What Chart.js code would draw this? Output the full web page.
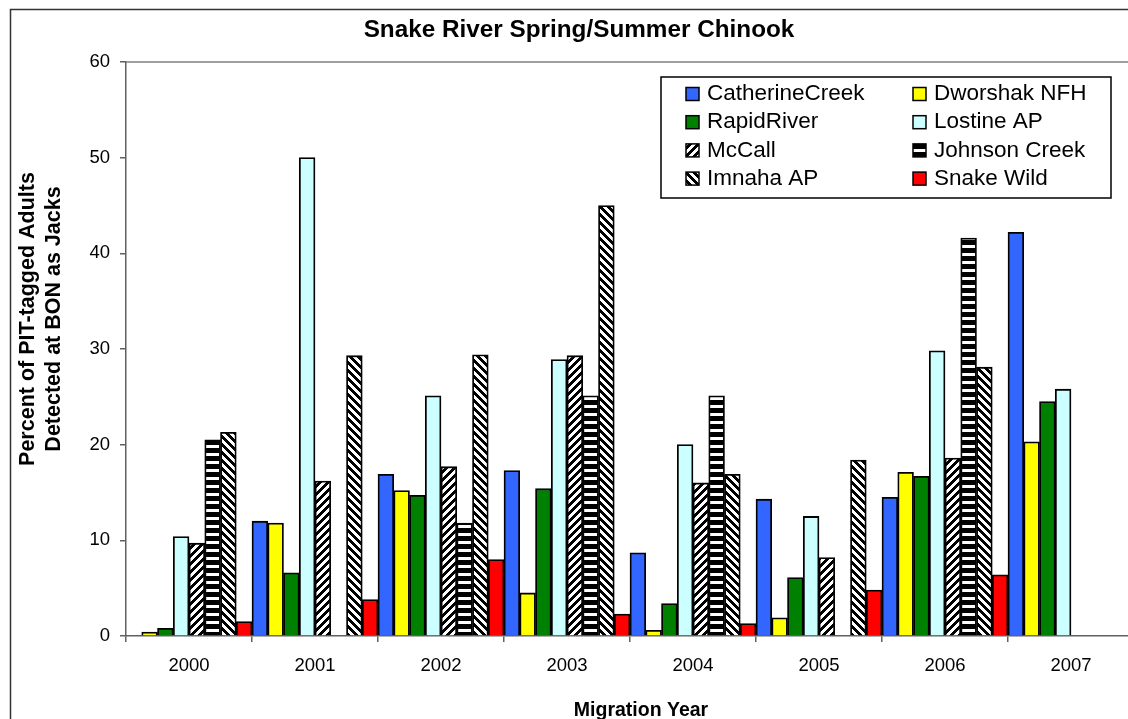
<!DOCTYPE html>
<html>
<head>
<meta charset="utf-8">
<script src="https://cdn.jsdelivr.net/npm/chart.js@4.4.0/dist/chart.umd.min.js"></script>
<style>
  html, body { margin: 0; padding: 0; background: #fff; overflow: hidden; }
  canvas { display: block; }
</style>
</head>
<body>
<canvas id="grafico" width="1150" height="719"></canvas>
<script>
const years = ['2000', '2001', '2002', '2003', '2004', '2005', '2006', '2007'];

// percent of PIT-tagged adults detected at BON as jacks (null = no bar)
const catherineCreek = [null, 12.0, 16.9, 17.3, 8.7, 14.3, 14.5, 42.2];
const dworshakNFH    = [0.4, 11.8, 15.2, 4.5, 0.6, 1.9, 17.1, 20.3];
const rapidRiver     = [0.8, 6.6, 14.7, 15.4, 3.4, 6.1, 16.7, 24.5];
const lostineAP      = [10.4, 50.0, 25.1, 28.9, 20.0, 12.5, 29.8, 25.8];
const mcCall         = [9.7, 16.2, 17.7, 29.3, 16.0, 8.2, 18.6, null];
const johnsonCreek   = [20.5, null, 11.8, 25.1, 25.1, null, 41.6, null];
const imnahaAP       = [21.3, 29.3, 29.4, 45.0, 16.9, 18.4, 28.1, null];
const snakeWild      = [1.5, 3.8, 8.0, 2.3, 1.3, 4.8, 6.4, null];

const yTicks = [0, 10, 20, 30, 40, 50, 60];

const FUENTE = "'Liberation Sans', Arial, sans-serif";

function patron(tipo) {
  const c = document.createElement('canvas');
  c.width = 8; c.height = 8;
  const g = c.getContext('2d');
  g.fillStyle = '#fff';
  g.fillRect(0, 0, 8, 8);
  g.fillStyle = '#000';
  for (let y = 0; y < 8; y++) {
    for (let x = 0; x < 8; x++) {
      let negro;
      if (tipo === 'sube') negro = (x + y) % 8 < 4;
      else if (tipo === 'baja') negro = ((x - y) % 8 + 8) % 8 < 4;
      else negro = y < 5;
      if (negro) g.fillRect(x, y, 1, 1);
    }
  }
  return g.createPattern(c, 'repeat');
}

function serie(label, data, fondo) {
  return {
    label: label,
    data: data,
    backgroundColor: fondo,
    borderColor: '#000',
    borderWidth: 1.8,
    categoryPercentage: 1,
    barPercentage: 1
  };
}

const extras = {
  id: 'extras',
  afterDraw(chart) {
    const ctx = chart.ctx;
    const a = chart.chartArea;
    ctx.save();

    // plot area border (top / right)
    ctx.strokeStyle = '#808080';
    ctx.lineWidth = 1.5;
    ctx.beginPath();
    ctx.moveTo(a.left, a.top);
    ctx.lineTo(a.right, a.top);
    ctx.lineTo(a.right, a.bottom);
    ctx.stroke();

    // outer chart frame
    ctx.strokeStyle = '#333';
    ctx.lineWidth = 1.5;
    ctx.strokeRect(10.5, 9.5, 3000, 3000);

    // y axis title, two lines
    ctx.fillStyle = '#000';
    ctx.font = 'bold 21.5px ' + FUENTE;
    ctx.textAlign = 'center';
    ctx.textBaseline = 'middle';
    ctx.save();
    ctx.translate(28, 319);
    ctx.rotate(-Math.PI / 2);
    ctx.fillText('Percent of PIT-tagged Adults', 0, 0);
    ctx.fillText('Detected at BON as Jacks', 0, 26.5);
    ctx.restore();

    // x axis title
    ctx.font = 'bold 19.5px ' + FUENTE;
    ctx.fillText('Migration Year', 641, 711);

    // legend box
    const lx = 661, ly = 77, lw = 450, lh = 121;
    ctx.fillStyle = '#fff';
    ctx.fillRect(lx, ly, lw, lh);
    ctx.strokeStyle = '#000';
    ctx.lineWidth = 1.5;
    ctx.strokeRect(lx, ly, lw, lh);

    ctx.font = '22.5px ' + FUENTE;
    ctx.textAlign = 'left';
    chart.data.datasets.forEach((ds, i) => {
      const col = i % 2, fila = Math.floor(i / 2);
      const sx = col === 0 ? 686 : 913;
      const cy = 94 + fila * 28.2;
      ctx.fillStyle = ds.backgroundColor;
      ctx.fillRect(sx, cy - 6.5, 13, 13);
      ctx.strokeStyle = '#000';
      ctx.lineWidth = 1.5;
      ctx.strokeRect(sx, cy - 6.5, 13, 13);
      ctx.fillStyle = '#000';
      ctx.fillText(ds.label, sx + 21, cy);
    });

    ctx.restore();
  }
};

new Chart(document.getElementById('grafico'), {
  type: 'bar',
  data: {
    labels: years,
    datasets: [
      serie('CatherineCreek', catherineCreek, '#3366FF'),
      serie('Dworshak NFH', dworshakNFH, '#FFFF00'),
      serie('RapidRiver', rapidRiver, '#008000'),
      serie('Lostine AP', lostineAP, '#CCFFFF'),
      serie('McCall', mcCall, patron('sube')),
      serie('Johnson Creek', johnsonCreek, patron('horiz')),
      serie('Imnaha AP', imnahaAP, patron('baja')),
      serie('Snake Wild', snakeWild, '#FF0000')
    ]
  },
  options: {
    responsive: false,
    animation: false,
    layout: { padding: { left: 24, right: 16, top: 0, bottom: 0 } },
    plugins: {
      legend: { display: false },
      tooltip: { enabled: false },
      title: {
        display: true,
        text: 'Snake River Spring/Summer Chinook',
        color: '#000',
        font: { family: FUENTE, size: 24.3, weight: 'bold', lineHeight: 1.2 },
        padding: { top: 16.2, bottom: 16.6 }
      }
    },
    scales: {
      x: {
        offset: true,
        grid: { offset: true, drawOnChartArea: false, drawTicks: true, tickLength: 6, color: '#606060', lineWidth: 1.5 },
        border: { color: '#606060', width: 1.5 },
        ticks: { color: '#000', font: { family: FUENTE, size: 18.5 }, padding: 13 },
        afterFit(scale) { scale.height = 83; }
      },
      y: {
        min: 0,
        max: 60,
        afterBuildTicks(scale) { scale.ticks = yTicks.map(v => ({ value: v })); },
        grid: { drawOnChartArea: false, drawTicks: true, tickLength: 6, color: '#606060', lineWidth: 1.5 },
        border: { color: '#606060', width: 1.5 },
        ticks: { color: '#000', font: { family: FUENTE, size: 18.5 }, padding: 10 },
        afterFit(scale) { scale.width = 102; }
      }
    }
  },
  plugins: [extras]
});
</script>
</body>
</html>
